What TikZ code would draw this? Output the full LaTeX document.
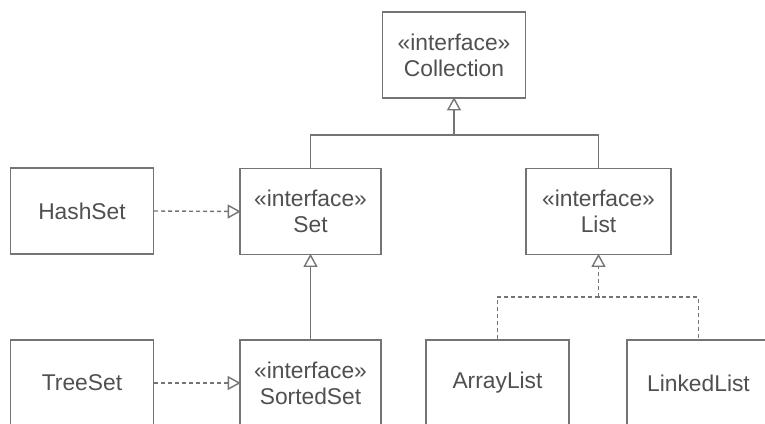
\documentclass[tikz,border=0pt]{standalone}
\usepackage{fontspec}
\setmainfont{Liberation Sans}
\definecolor{linegray}{HTML}{747474}
\definecolor{textgray}{HTML}{505050}
\begin{document}
\begin{tikzpicture}[x=1pt,y=-1pt,
  cls/.style={draw=linegray, line width=1.4pt, fill=white, minimum width=143pt, minimum height=86pt,
    align=center, text=textgray, inner sep=0pt, font=\fontsize{22.8}{26}\selectfont},
  conn/.style={draw=linegray, line width=1.4pt},
  dashline/.style={conn, dash pattern=on 4pt off 3pt},
  tri/.style={draw=linegray, line width=1.4pt, fill=white, line join=miter}
]
\useasboundingbox (0,0) rectangle (765,423);
\clip (0,0) rectangle (765,423);
\node[cls] (coll) at (454,55) {«interface»\\Collection};
\node[cls] (hash) at (82,211) {HashSet};
\node[cls, minimum width=141pt] (set) at (310.5,211.5) {«interface»\\Set};
\node[cls, minimum width=145pt] (list) at (598.5,211.5) {«interface»\\List};
\node[cls] (tree) at (82,383) {TreeSet};
\node[cls, minimum width=141pt] (sorted) at (310.5,383) {«interface»\\SortedSet};
\node[cls] (array) at (497.5,383) {ArrayList};
\node[cls] (linked) at (698.5,383) {LinkedList};
\coordinate (j1) at (454,135);
\coordinate (j2) at (598.5,297);
% generalization to Collection
\draw[conn] (set.north) |- (j1) -| (list.north);
\draw[conn] (j1) -- (coll.south);
\draw[tri] (coll.south) -- ++(-6,11) -- ++(12,0) -- cycle;
% Set hierarchy
\draw[dashline] (hash.east) -- (set.west);
\draw[tri] (set.west) -- ++(-11,-6) -- ++(0,12) -- cycle;
\draw[conn] (sorted.north) -- (set.south);
\draw[tri] (set.south) -- ++(-6,11) -- ++(12,0) -- cycle;
\draw[dashline] (tree.east) -- (sorted.west);
\draw[tri] (sorted.west) -- ++(-11,-6) -- ++(0,12) -- cycle;
% List realizations
\draw[dashline] (array.north) |- (j2) -| (linked.north);
\draw[dashline] (j2) -- (list.south);
\draw[tri] (list.south) -- ++(-6,11) -- ++(12,0) -- cycle;
\end{tikzpicture}
\end{document}
